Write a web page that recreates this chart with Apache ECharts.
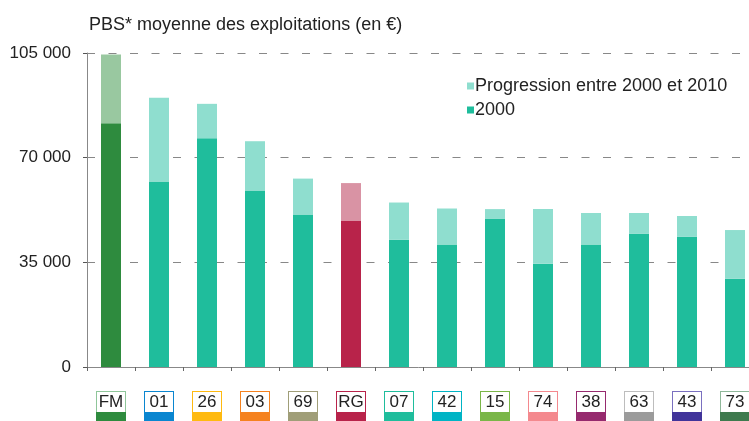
<!DOCTYPE html>
<html>
<head>
<meta charset="utf-8">
<script src="https://cdn.jsdelivr.net/npm/echarts@6/dist/echarts.min.js"></script>
<style>html,body{margin:0;padding:0;background:#fff;}#c{width:749px;height:421px;}</style>
</head>
<body>
<div id="c"></div>
<script>
const categories = ['FM','01','26','03','69','RG','07','42','15','74','38','63','43','73'];
const values2000 = [81500, 62000, 76500, 59000, 51000, 49000, 42500, 41000, 49500, 34500, 41000, 44500, 43500, 29500];
const progression = [23000, 28000, 11500, 16500, 12000, 12500, 12500, 12000, 3300, 18300, 10500, 7000, 7000, 16300];
const yTicks = [0, 35000, 70000, 105000];
const labelColors = ['#2e8b3e','#0a86d0','#ffba10','#f5821f','#a09e78','#b8234a','#1fbd9c','#00b4c5','#7ab648','#f4898e','#962a6e','#9b9b9b','#41349a','#3e7a4e'];
const borderColors = ['#8fc69a','#0a86d0','#ffba10','#f5821f','#a09e78','#b8234a','#1fbd9c','#00b4c5','#7ab648','#f4898e','#962a6e','#bdbdbd','#7a70c0','#8fb89a'];

const darkColor = '#1fbd9c', lightColor = '#8fdecf';
const special = {FM: ['#2e8b3e', '#99c8a0'], RG: ['#b8234a', '#d993a4']};

const rich = {};
categories.forEach((c, i) => {
  rich['b' + i] = {width: 28, height: 20, lineHeight: 20, align: 'center', verticalAlign: 'middle', borderColor: borderColors[i], borderWidth: 1, backgroundColor: '#fff', fontSize: 17, color: '#222', fontFamily: 'Liberation Sans'};
  rich['c' + i] = {width: 30, height: 9, lineHeight: 9, backgroundColor: labelColors[i]};
});

const fmt = v => String(v).replace(/\B(?=(\d{3})+(?!\d))/g, ' ');

const option = {
  animation: false,
  backgroundColor: '#fff',
  textStyle: {fontFamily: 'Liberation Sans'},
  title: {text: 'PBS* moyenne des exploitations (en €)', left: 84, top: 11,
    textStyle: {fontSize: 18, fontWeight: 'normal', color: '#222', fontFamily: 'Liberation Sans'}},
  legend: {orient: 'vertical', left: 462, top: 72, itemWidth: 7, itemHeight: 7, itemGap: 6, icon: 'rect',
    textStyle: {fontSize: 18, color: '#222', padding: [0, 0, 0, -4]},
    data: ['Progression entre 2000 et 2010', '2000']},
  grid: {left: 87, right: -10, top: 53, bottom: 54, containLabel: false, outerBoundsMode: 'none'},
  xAxis: {type: 'category', data: categories,
    axisLine: {lineStyle: {color: '#888'}},
    axisTick: {show: true, length: 4, lineStyle: {color: '#666'}},
    axisLabel: {margin: 25, interval: 0,
      formatter: (v, i) => '{b' + i + '|' + v + '}\n{c' + i + '|}', rich: rich}},
  yAxis: {type: 'value', min: 0, max: 105000, interval: 35000,
    axisLine: {show: true, lineStyle: {color: '#888'}},
    axisTick: {show: true, length: 4, lineStyle: {color: '#555'}},
    axisLabel: {fontSize: 17, color: '#222', margin: 16, formatter: v => yTicks.includes(v) ? fmt(v) : ''},
    splitLine: {show: true, showMinLine: false, lineStyle: {color: '#888', type: [8, 13.5], width: 1}}},
  series: [
    {name: '2000', type: 'bar', stack: 's', barWidth: 20, itemStyle: {color: darkColor},
      data: values2000.map((v, i) => special[categories[i]] ? {value: v, itemStyle: {color: special[categories[i]][0]}} : v)},
    {name: 'Progression entre 2000 et 2010', type: 'bar', stack: 's', barWidth: 20, itemStyle: {color: lightColor},
      data: progression.map((v, i) => special[categories[i]] ? {value: v, itemStyle: {color: special[categories[i]][1]}} : v)}
  ]
};
echarts.init(document.getElementById('c')).setOption(option);
</script>
</body>
</html>
